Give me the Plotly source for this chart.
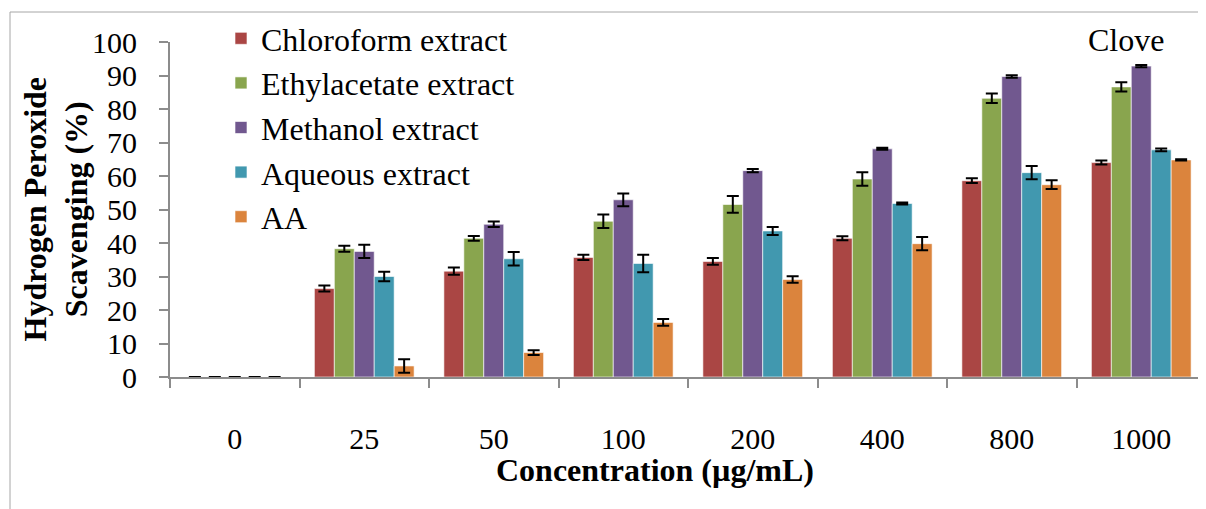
import plotly.graph_objects as go

concentrations = ["0", "25", "50", "100", "200", "400", "800", "1000"]

chloroform = [0, 26.4, 31.6, 35.7, 34.5, 41.4, 58.6, 64.0]
chloroform_err = [0, 0.9, 1.1, 0.8, 1.0, 0.6, 0.7, 0.6]
ethylacetate = [0, 38.3, 41.4, 46.5, 51.5, 59.1, 83.2, 86.6]
ethylacetate_err = [0, 0.9, 0.7, 2.0, 2.5, 2.0, 1.4, 1.4]
methanol = [0, 37.5, 45.6, 52.9, 61.6, 68.1, 89.7, 92.8]
methanol_err = [0, 2.0, 0.8, 1.9, 0.5, 0.3, 0.4, 0.3]
aqueous = [0, 30.0, 35.3, 33.9, 43.6, 51.8, 61.0, 67.8]
aqueous_err = [0, 1.4, 2.0, 2.6, 1.2, 0.3, 2.0, 0.4]
aa = [0, 3.3, 7.3, 16.3, 29.1, 39.8, 57.4, 64.8]
aa_err = [0, 2.0, 0.7, 1.0, 1.0, 2.0, 1.3, 0.2]

series_names = ["Chloroform extract", "Ethylacetate extract", "Methanol extract",
                "Aqueous extract", "AA"]
series_values = [chloroform, ethylacetate, methanol, aqueous, aa]
series_errors = [chloroform_err, ethylacetate_err, methanol_err, aqueous_err, aa_err]
colors = ["#AA4644", "#89A54E", "#71588F", "#4198AF", "#DB843D"]

FONT = "Liberation Serif, Times New Roman, serif"

fig = go.Figure()
for name, vals, errs, col in zip(series_names, series_values, series_errors, colors):
    fig.add_trace(go.Bar(
        x=concentrations, y=vals, name=name,
        marker=dict(color=col, line=dict(color="rgba(255,255,255,0.6)", width=1)),
        error_y=dict(type="data", array=errs, visible=True, color="black",
                     thickness=2, width=6),
    ))

OFF = 8  # page body margin
W, H = 1206 - OFF, 509 - OFF
L, T = 170 - OFF, 42 - OFF
R = 0
B = H - T - 335
pw = W - L - R
ph = H - T - B


def px(sx):
    return (sx - OFF - L) / pw


def py(sy):
    return 1 - (sy - OFF - T) / ph


fig.update_layout(
    width=W, height=H,
    margin=dict(l=L, r=R, t=T, b=B, autoexpand=False),
    paper_bgcolor="white", plot_bgcolor="white",
    barmode="group", bargap=0.23, bargroupgap=0,
    font=dict(family=FONT, size=30, color="black"),
    showlegend=True,
    legend=dict(x=px(221), y=py(11), xanchor="left", yanchor="top",
                bgcolor="rgba(0,0,0,0)", font=dict(family=FONT, size=32),
                tracegroupgap=0, itemwidth=30),
    xaxis=dict(type="category", showline=True, linecolor="#8C8C8C", linewidth=2,
               ticks="outside", tickson="boundaries", ticklen=9, tickcolor="#8C8C8C",
               tickwidth=2, showgrid=False, ticklabelstandoff=34, automargin=False,
               tickfont=dict(family=FONT, size=30)),
    yaxis=dict(range=[0, 100], dtick=10, showline=True, linecolor="#8C8C8C", linewidth=2,
               ticks="outside", ticklen=9, tickcolor="#8C8C8C", tickwidth=2,
               showgrid=False, zeroline=False, ticklabelstandoff=16, automargin=False,
               tickfont=dict(family=FONT, size=30)),
    annotations=[
        dict(text="<b>Hydrogen Peroxide<br>Scavenging (%)</b>", xref="paper", yref="paper",
             x=px(55), y=0.5, xanchor="center", yanchor="middle", textangle=-90,
             showarrow=False, font=dict(family=FONT, size=32)),
        dict(text="<b>Concentration (µg/mL)</b>", xref="paper", yref="paper",
             x=px(655), y=py(470), xanchor="center", yanchor="middle",
             showarrow=False, font=dict(family=FONT, size=32)),
        dict(text="Clove", xref="paper", yref="paper",
             x=px(1126), y=py(40), xanchor="center", yanchor="middle",
             showarrow=False, font=dict(family=FONT, size=32)),
    ],
    shapes=[
        dict(type="line", xref="paper", yref="paper",
             x0=px(10), x1=px(10), y0=py(530), y1=py(12),
             line=dict(color="#A6A6A6", width=1), layer="below"),
        dict(type="line", xref="paper", yref="paper",
             x0=px(10), x1=px(1240), y0=py(12), y1=py(12),
             line=dict(color="#A6A6A6", width=1), layer="below"),
    ],
)

fig.write_html("out.html")
